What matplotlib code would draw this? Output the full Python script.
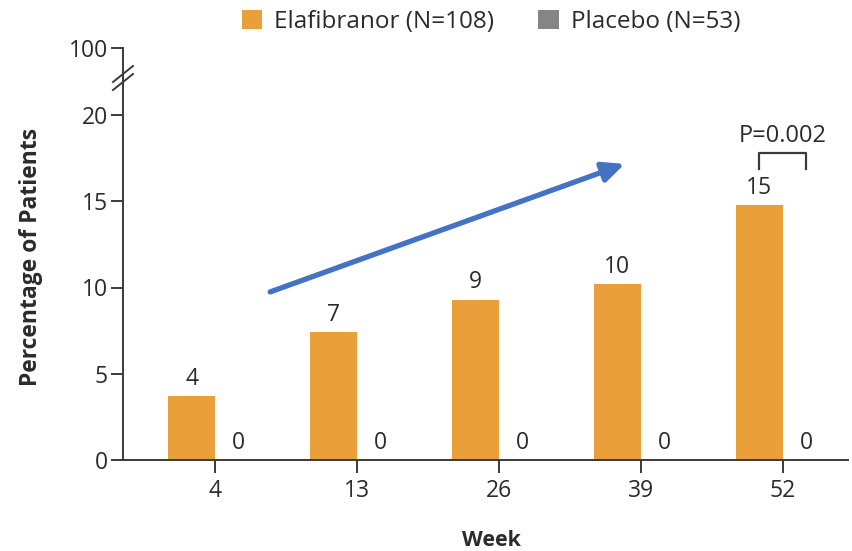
import matplotlib
matplotlib.use("Agg")
import matplotlib.pyplot as plt
from matplotlib.lines import Line2D
from matplotlib.patches import Patch
import numpy as np

plt.rcParams['font.family'] = ['Open Sans', 'DejaVu Sans']

weeks = ["4", "13", "26", "39", "52"]
elafibranor = [3.7, 7.4, 9.3, 10.2, 14.8]
placebo = [0, 0, 0, 0, 0]
series_names = ["Elafibranor (N=108)", "Placebo (N=53)"]
p_label = "P=0.002"

orange = "#E9A03B"
gray = "#858585"
axis_col = "#3a3a3a"
text_col = "#2b2b2b"

W, H = 853, 551
fig = plt.figure(figsize=(W / 100, H / 100), dpi=100)

def fx(px):
    return px / W

def fy(py):
    return 1 - py / H

x_left, x_right = 123, 848
y_zero, y_join, y_top = 460, 78, 48
px_per_unit = (460 - 115) / 20.0

ax = fig.add_axes([fx(x_left), fy(y_zero), fx(x_right) - fx(x_left), fy(y_join) - fy(y_zero)])
ax_top = fig.add_axes([fx(x_left), fy(y_join), fx(x_right) - fx(x_left), fy(y_top) - fy(y_join)])

x = np.arange(len(weeks))
bw = 0.33
ax.bar(x - bw / 2, elafibranor, width=bw, color=orange, zorder=2)
ax.bar(x + bw / 2, placebo, width=bw, color=gray, zorder=2)

ax.set_xlim(-0.65, 4.46)
ax.set_ylim(0, (y_zero - y_join) / px_per_unit)
ax.set_xticks(x)
ax.set_xticklabels(weeks)
ax.set_yticks([0, 5, 10, 15, 20])

fs = 16.5
for a in (ax, ax_top):
    for s in ("top", "right"):
        a.spines[s].set_visible(False)
    a.spines["left"].set_color(axis_col)
    a.spines["left"].set_linewidth(1.4)
    a.patch.set_visible(False)
ax.spines["bottom"].set_color(axis_col)
ax.spines["bottom"].set_linewidth(1.4)
ax.tick_params(axis="y", direction="out", length=9, width=1.4, color=axis_col,
               labelsize=fs, labelcolor=text_col, pad=2)
ax.tick_params(axis="x", direction="out", length=9, width=1.4, color=axis_col,
               labelsize=fs, labelcolor=text_col, pad=5)

ax_top.spines["bottom"].set_visible(False)
ax_top.set_xlim(ax.get_xlim())
ax_top.set_xticks([])
ax_top.set_ylim(100 - (y_join - y_top) / px_per_unit, 100)
ax_top.set_yticks([100])
ax_top.tick_params(axis="y", direction="out", length=9, width=1.4, color=axis_col,
                   labelsize=fs, labelcolor=text_col, pad=2)

# Value labels above each bar
for xi, v in zip(x, elafibranor):
    ax.text(xi - bw / 2, v + 0.3, f"{v:.0f}", ha="center", va="bottom",
            fontsize=fs, color=text_col)
for xi, v in zip(x, placebo):
    ax.text(xi + bw / 2, v + 0.3, f"{v:.0f}", ha="center", va="bottom",
            fontsize=fs, color=text_col)

# Significance bracket at week 52
last = len(weeks) - 1
yb = elafibranor[last] + 3.0
ax.plot([last - bw / 2, last - bw / 2, last + bw / 2, last + bw / 2],
        [yb - 0.95, yb, yb, yb - 0.95], color=axis_col, lw=1.6, clip_on=False)
ax.text(last, yb + 0.3, p_label, ha="center", va="bottom", fontsize=17, color=text_col)

# Axis break marks
for dy in (-4, 4):
    fig.add_artist(Line2D([fx(x_left - 10), fx(x_left + 10)],
                          [fy(86 + dy), fy(70 + dy)], color=axis_col, lw=1.4))

ax.set_ylabel("Percentage of Patients", fontsize=16.5, fontweight="bold", color=text_col)
ax.yaxis.set_label_coords((31 - x_left) / (x_right - x_left), (y_zero - 257) / (y_zero - y_join))
ax.set_xlabel("Week", fontsize=15.5, fontweight="bold", color=text_col)
ax.xaxis.set_label_coords((491 - x_left) / (x_right - x_left), -(540 - y_zero) / (y_zero - y_join))
ax.xaxis.label.set_verticalalignment("center")
ax.yaxis.label.set_verticalalignment("center")

# Legend
handles = [Patch(facecolor=orange, edgecolor="none"), Patch(facecolor=gray, edgecolor="none")]
fig.legend(handles, series_names, loc="center", bbox_to_anchor=(fx(491), fy(22)), ncol=2,
           frameon=False, fontsize=17.5, handlelength=0.85, handleheight=0.85,
           handletextpad=0.5, columnspacing=1.8, labelcolor=text_col)

# Trend arrow
ax.annotate("", xy=(0.692, 0.775), xytext=(0.203, 0.44), xycoords="axes fraction",
            arrowprops=dict(arrowstyle="-|>,head_length=1.3,head_width=0.6",
                            color="#4472C4", lw=3.8, shrinkA=0, shrinkB=0))

fig.savefig("out.png", dpi=100, facecolor="white")
